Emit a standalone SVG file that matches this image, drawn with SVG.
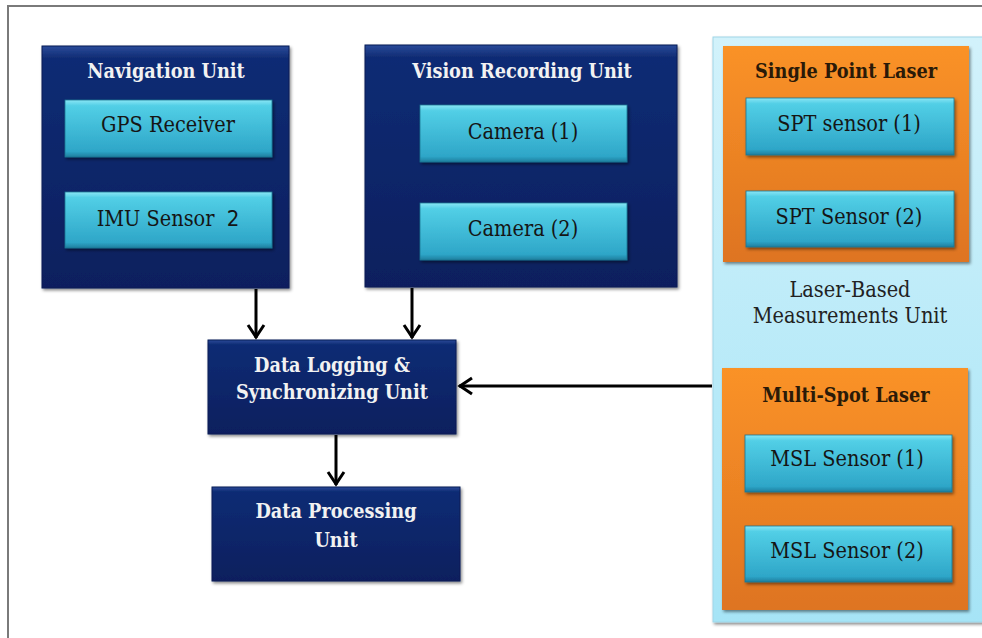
<svg xmlns="http://www.w3.org/2000/svg" width="982" height="638" viewBox="0 0 982 638">
  <defs>
    <linearGradient id="navy" x1="0" y1="0" x2="0" y2="1">
      <stop offset="0" stop-color="#2a4a9a"/>
      <stop offset="0.05" stop-color="#102c74"/>
      <stop offset="1" stop-color="#0a1f5e"/>
    </linearGradient>
    <linearGradient id="cyan" x1="0" y1="0" x2="0" y2="1">
      <stop offset="0" stop-color="#8ae6f5"/>
      <stop offset="0.1" stop-color="#52cfe6"/>
      <stop offset="0.9" stop-color="#2ea6c8"/>
      <stop offset="1" stop-color="#1f7e9e"/>
    </linearGradient>
    <linearGradient id="orange" x1="0" y1="0" x2="0" y2="1">
      <stop offset="0" stop-color="#fa9228"/>
      <stop offset="1" stop-color="#de7420"/>
    </linearGradient>
    <linearGradient id="sky" x1="0" y1="0" x2="0" y2="1">
      <stop offset="0" stop-color="#d2f2fb"/>
      <stop offset="1" stop-color="#a6e4f6"/>
    </linearGradient>
    <filter id="shadow" x="-5%" y="-5%" width="112%" height="115%">
      <feDropShadow dx="1.5" dy="2" stdDeviation="1.5" flood-color="#000" flood-opacity="0.45"/>
    </filter>
    <marker id="chevron" viewBox="0 0 22 22" refX="19" refY="11" markerWidth="22" markerHeight="22" markerUnits="userSpaceOnUse" orient="auto">
      <path d="M6,3 L18,11 L6,19" fill="none" stroke="#000" stroke-width="3" stroke-linejoin="miter"/>
    </marker>
    <style>
      .navy { fill: url(#navy); stroke: #0a1c55; stroke-width: 1; filter: url(#shadow); }
      .cyan { fill: url(#cyan); stroke: #1b7592; stroke-width: 0.8; filter: url(#shadow); }
      .orange { fill: url(#orange); filter: url(#shadow); }
      .sky { fill: url(#sky); stroke: #9fd6e8; stroke-width: 1; filter: url(#shadow); }
      text { font-family: "DejaVu Serif", "Liberation Serif", serif; font-stretch: condensed; text-anchor: middle; }
      .title { font-size: 19.7px; font-weight: bold; fill: #f2f2f2; }
      .otitle { font-size: 19.7px; font-weight: bold; fill: #2a1a08; }
      .item { font-size: 21.5px; fill: #151515; }
      .label { font-size: 21.5px; fill: #222; }
      .conn { stroke: #000; stroke-width: 3; fill: none; marker-end: url(#chevron); }
    </style>
  </defs>

  <rect width="982" height="638" fill="#fff"/>
  <!-- outer frame -->
  <path d="M8,640 V6 H984" fill="none" stroke="#7a7a7a" stroke-width="2"/>

  <g id="navigation-unit">
    <rect class="navy" x="42" y="46" width="247" height="242"/>
    <text class="title" x="166" y="78">Navigation Unit</text>
    <g id="gps-receiver">
      <rect class="cyan" x="65" y="100" width="207" height="57"/>
      <text class="item" x="168" y="132">GPS Receiver</text>
    </g>
    <g id="imu-sensor">
      <rect class="cyan" x="65" y="192" width="207" height="56"/>
      <text class="item" x="168" y="226" xml:space="preserve">IMU Sensor  <tspan font-family="DejaVu Sans, sans-serif" font-size="22">2</tspan></text>
    </g>
  </g>

  <g id="vision-recording-unit">
    <rect class="navy" x="365" y="45" width="312" height="242"/>
    <text class="title" x="522" y="78">Vision Recording Unit</text>
    <g id="camera-1">
      <rect class="cyan" x="420" y="105" width="207" height="57"/>
      <text class="item" x="523" y="139">Camera (1)</text>
    </g>
    <g id="camera-2">
      <rect class="cyan" x="420" y="203" width="207" height="57"/>
      <text class="item" x="523" y="236">Camera (2)</text>
    </g>
  </g>

  <g id="laser-measurements-unit">
    <rect class="sky" x="713" y="37" width="290" height="585"/>
    <text class="label" x="850" y="297">Laser-Based</text>
    <text class="label" x="850" y="323">Measurements Unit</text>
    <g id="single-point-laser">
      <rect class="orange" x="723" y="46" width="246" height="216"/>
      <text class="otitle" x="846" y="78">Single Point Laser</text>
      <g id="spt-sensor-1">
        <rect class="cyan" x="746" y="98" width="208" height="57"/>
        <text class="item" x="849" y="131">SPT sensor (1)</text>
      </g>
      <g id="spt-sensor-2">
        <rect class="cyan" x="746" y="191" width="208" height="56"/>
        <text class="item" x="849" y="224">SPT Sensor (2)</text>
      </g>
    </g>
    <g id="multi-spot-laser">
      <rect class="orange" x="722" y="368" width="246" height="242"/>
      <text class="otitle" x="846" y="402">Multi-Spot Laser</text>
      <g id="msl-sensor-1">
        <rect class="cyan" x="745" y="435" width="207" height="57"/>
        <text class="item" x="847" y="466">MSL Sensor (1)</text>
      </g>
      <g id="msl-sensor-2">
        <rect class="cyan" x="745" y="526" width="207" height="56"/>
        <text class="item" x="847" y="558">MSL Sensor (2)</text>
      </g>
    </g>
  </g>

  <g id="data-logging-unit">
    <rect class="navy" x="208" y="340" width="248" height="94"/>
    <text class="title" x="332" y="372">Data Logging &amp;</text>
    <text class="title" x="332" y="399">Synchronizing Unit</text>
  </g>

  <g id="data-processing-unit">
    <rect class="navy" x="212" y="487" width="248" height="94"/>
    <text class="title" x="336" y="518">Data Processing</text>
    <text class="title" x="336" y="547">Unit</text>
  </g>

  <g id="connectors">
    <line class="conn" x1="256" y1="289" x2="256" y2="338"/>
    <line class="conn" x1="412" y1="288" x2="412" y2="338"/>
    <line class="conn" x1="336" y1="435" x2="336" y2="485"/>
    <line class="conn" x1="712" y1="386" x2="459" y2="386"/>
  </g>
</svg>
